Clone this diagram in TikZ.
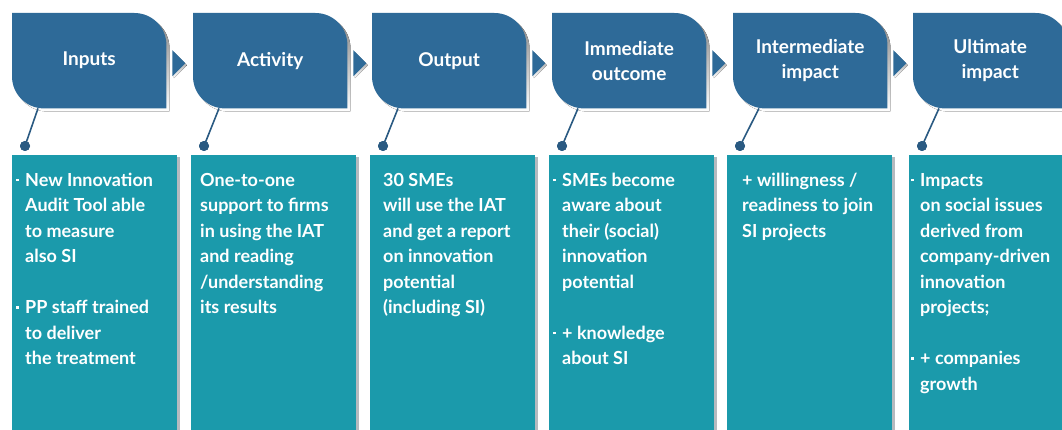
\documentclass[tikz,border=0pt]{standalone}
\usepackage{fontspec}
\setmainfont{Lato}
\usetikzlibrary{calc,backgrounds,shadows}
\definecolor{hblue}{HTML}{2E6A98}
\definecolor{tealbox}{HTML}{1B9AAB}
\definecolor{dblue}{HTML}{2A5A82}
\definecolor{shade}{HTML}{B5BABF}
\newcommand\bul{\llap{\raisebox{5pt}{\rule{2.6pt}{2.6pt}}\hspace{6.5pt}}}
\newcommand\fst{\rule{0pt}{14pt}}
\begin{document}
\begin{tikzpicture}[x=1pt,y=1pt,
  hdr/.style={minimum width=154pt, minimum height=95pt, inner sep=0pt, anchor=north west, align=center, text=white, font=\bfseries\fontsize{19}{25}\selectfont},
  tbox/.style={fill=tealbox, minimum width=165pt, minimum height=290pt, inner sep=0pt, anchor=north west, general shadow={fill=shade, shadow xshift=3pt, shadow yshift=-2pt}},
  ttext/.style={anchor=north west, inner sep=0pt, align=left, text=white, font=\bfseries\fontsize{18}{25.5}\selectfont},
  dotnode/.style={circle, fill=dblue, inner sep=0pt, minimum size=10pt},
  conn/.style={draw=dblue, line width=1.6pt},
  hpath/.style n args={3}{insert path={([xshift=#2,yshift=#3]#1.north west) -- ([xshift=#2-32pt,yshift=#3]#1.north east) arc[start angle=90,end angle=0,radius=32pt] -- ([xshift=#2,yshift=#3]#1.south east) -- ([xshift=#2+32pt,yshift=#3]#1.south west) arc[start angle=270,end angle=180,radius=32pt] -- cycle}},
  tri/.style n args={3}{insert path={([xshift=6pt+#2,yshift=10.5pt+#3]#1.east) -- ([xshift=19pt+#2,yshift=-2.5pt+#3]#1.east) -- ([xshift=6pt+#2,yshift=-15.5pt+#3]#1.east) -- cycle}}
]
\useasboundingbox (0,0) rectangle (1062,429);

% headers
\node[hdr] (h1) at (12,416) {Inputs};
\node[hdr] (h2) at (193,416) {Activity};
\node[hdr] (h3) at (372,416) {Output};
\node[hdr] (h4) at (552,416) {Immediate\\outcome};
\node[hdr] (h5) at (733,416) {Intermediate\\impact};
\node[hdr] (h6) at (913,416) {Ultimate\\impact};

\begin{pgfonlayer}{background}
\fill[white] (0,0) rectangle (1062,429);
\foreach \h in {h1,h2,h3,h4,h5,h6}{
  \fill[shade] [hpath={\h}{3pt}{-3pt}];
  \fill[hblue] [hpath={\h}{0pt}{0pt}];
}
\foreach \h in {h1,h2,h3,h4,h5}{
  \fill[shade] [tri={\h}{1.5pt}{-2pt}];
  \fill[hblue] [tri={\h}{0pt}{0pt}];
}
\end{pgfonlayer}

% text boxes
\node[tbox] (b1) at (12,274) {};
\node[tbox] (b2) at (191,274) {};
\node[tbox] (b3) at (370,274) {};
\node[tbox] (b4) at (549,274) {};
\node[tbox] (b5) at (727,274) {};
\node[tbox] (b6) at (909,274) {};

% dots and connectors
\foreach \i in {1,...,6}{
  \node[dotnode] (d\i) at ($(b\i.north west)+(13pt,9pt)$) {};
  \draw[conn] ($(h\i.south west)+(26pt,0)$) -- (d\i.center);
  \node[dotnode] at (d\i) {};
}

% texts
\node[ttext] (t1) at (25,257) {\fst\bul New Innovation\\Audit Tool able\\to measure\\also SI\\[25.5pt]\bul PP staff trained\\to deliver\\the treatment};
\node[ttext] (t2) at (200,257) {\fst One-to-one\\support to firms\\in using the IAT\\and reading\\/understanding\\its results};
\node[ttext] (t3) at (383,257) {\fst 30 SMEs\\will use the IAT\\and get a report\\on innovation\\potential\\(including SI)};
\node[ttext] (t4) at (562,257) {\fst\bul SMEs become\\aware about\\their (social)\\innovation\\potential\\[25.5pt]\bul + knowledge\\about SI};
\node[ttext] (t5) at (742,257) {\fst + willingness /\\readiness to join\\SI projects};
\node[ttext] (t6) at (920,257) {\fst\bul Impacts\\on social issues\\derived from\\company-driven\\innovation\\projects;\\[25.5pt]\bul + companies\\growth};
\end{tikzpicture}
\end{document}
